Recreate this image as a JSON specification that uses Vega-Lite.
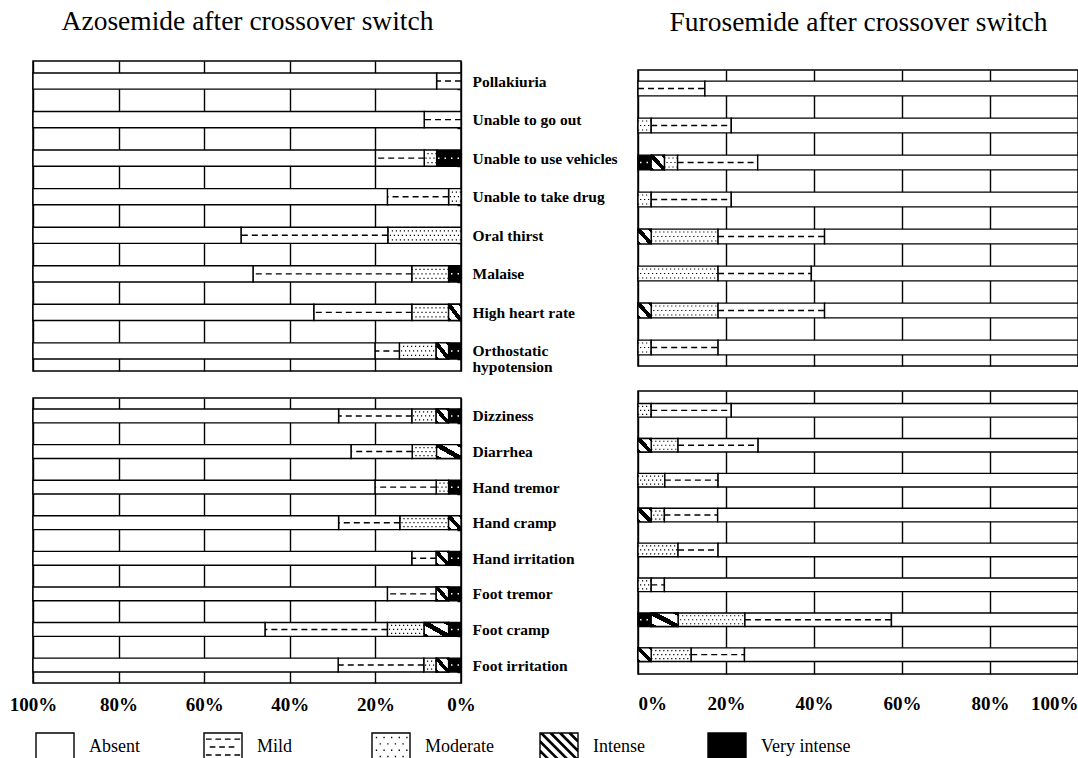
{
  "$schema": "https://vega.github.io/schema/vega-lite/v6.json",
  "background": "white",
  "padding": {"left": 8, "top": 6, "right": 0, "bottom": 0},
  "datasets": {
    "severity": [
      {"severity": "Very intense", "rank": 1},
      {"severity": "Intense", "rank": 2},
      {"severity": "Moderate", "rank": 3},
      {"severity": "Mild", "rank": 4},
      {"severity": "Absent", "rank": 5}
    ],
    "azoUpper": [
      {"symptom": "Pollakiuria", "severity": "Mild", "pct": 5.7},
      {"symptom": "Pollakiuria", "severity": "Absent", "pct": 94.3},
      {"symptom": "Unable to go out", "severity": "Mild", "pct": 8.6},
      {"symptom": "Unable to go out", "severity": "Absent", "pct": 91.4},
      {"symptom": "Unable to use vehicles", "severity": "Very intense", "pct": 5.7},
      {"symptom": "Unable to use vehicles", "severity": "Moderate", "pct": 2.9},
      {"symptom": "Unable to use vehicles", "severity": "Mild", "pct": 11.4},
      {"symptom": "Unable to use vehicles", "severity": "Absent", "pct": 80.0},
      {"symptom": "Unable to take drug", "severity": "Moderate", "pct": 2.9},
      {"symptom": "Unable to take drug", "severity": "Mild", "pct": 14.3},
      {"symptom": "Unable to take drug", "severity": "Absent", "pct": 82.8},
      {"symptom": "Oral thirst", "severity": "Moderate", "pct": 17.1},
      {"symptom": "Oral thirst", "severity": "Mild", "pct": 34.3},
      {"symptom": "Oral thirst", "severity": "Absent", "pct": 48.6},
      {"symptom": "Malaise", "severity": "Very intense", "pct": 2.9},
      {"symptom": "Malaise", "severity": "Moderate", "pct": 8.6},
      {"symptom": "Malaise", "severity": "Mild", "pct": 37.1},
      {"symptom": "Malaise", "severity": "Absent", "pct": 51.4},
      {"symptom": "High heart rate", "severity": "Intense", "pct": 2.9},
      {"symptom": "High heart rate", "severity": "Moderate", "pct": 8.6},
      {"symptom": "High heart rate", "severity": "Mild", "pct": 22.9},
      {"symptom": "High heart rate", "severity": "Absent", "pct": 65.6},
      {"symptom": "Orthostatic hypotension", "severity": "Very intense", "pct": 2.9},
      {"symptom": "Orthostatic hypotension", "severity": "Intense", "pct": 2.9},
      {"symptom": "Orthostatic hypotension", "severity": "Moderate", "pct": 8.6},
      {"symptom": "Orthostatic hypotension", "severity": "Mild", "pct": 5.7},
      {"symptom": "Orthostatic hypotension", "severity": "Absent", "pct": 79.9}
    ],
    "azoLower": [
      {"symptom": "Dizziness", "severity": "Very intense", "pct": 2.9},
      {"symptom": "Dizziness", "severity": "Intense", "pct": 2.9},
      {"symptom": "Dizziness", "severity": "Moderate", "pct": 5.7},
      {"symptom": "Dizziness", "severity": "Mild", "pct": 17.1},
      {"symptom": "Dizziness", "severity": "Absent", "pct": 71.4},
      {"symptom": "Diarrhea", "severity": "Intense", "pct": 5.7},
      {"symptom": "Diarrhea", "severity": "Moderate", "pct": 5.7},
      {"symptom": "Diarrhea", "severity": "Mild", "pct": 14.3},
      {"symptom": "Diarrhea", "severity": "Absent", "pct": 74.3},
      {"symptom": "Hand tremor", "severity": "Very intense", "pct": 2.9},
      {"symptom": "Hand tremor", "severity": "Moderate", "pct": 2.9},
      {"symptom": "Hand tremor", "severity": "Mild", "pct": 14.3},
      {"symptom": "Hand tremor", "severity": "Absent", "pct": 79.9},
      {"symptom": "Hand cramp", "severity": "Intense", "pct": 2.9},
      {"symptom": "Hand cramp", "severity": "Moderate", "pct": 11.4},
      {"symptom": "Hand cramp", "severity": "Mild", "pct": 14.3},
      {"symptom": "Hand cramp", "severity": "Absent", "pct": 71.4},
      {"symptom": "Hand irritation", "severity": "Very intense", "pct": 2.9},
      {"symptom": "Hand irritation", "severity": "Intense", "pct": 2.9},
      {"symptom": "Hand irritation", "severity": "Mild", "pct": 5.7},
      {"symptom": "Hand irritation", "severity": "Absent", "pct": 88.5},
      {"symptom": "Foot tremor", "severity": "Very intense", "pct": 2.9},
      {"symptom": "Foot tremor", "severity": "Intense", "pct": 2.9},
      {"symptom": "Foot tremor", "severity": "Mild", "pct": 11.4},
      {"symptom": "Foot tremor", "severity": "Absent", "pct": 82.8},
      {"symptom": "Foot cramp", "severity": "Very intense", "pct": 2.9},
      {"symptom": "Foot cramp", "severity": "Intense", "pct": 5.7},
      {"symptom": "Foot cramp", "severity": "Moderate", "pct": 8.6},
      {"symptom": "Foot cramp", "severity": "Mild", "pct": 28.6},
      {"symptom": "Foot cramp", "severity": "Absent", "pct": 54.2},
      {"symptom": "Foot irritation", "severity": "Very intense", "pct": 2.9},
      {"symptom": "Foot irritation", "severity": "Intense", "pct": 2.9},
      {"symptom": "Foot irritation", "severity": "Moderate", "pct": 2.9},
      {"symptom": "Foot irritation", "severity": "Mild", "pct": 20.0},
      {"symptom": "Foot irritation", "severity": "Absent", "pct": 71.3}
    ],
    "furoUpper": [
      {"symptom": "Pollakiuria", "severity": "Mild", "pct": 15.2},
      {"symptom": "Pollakiuria", "severity": "Absent", "pct": 84.8},
      {"symptom": "Unable to go out", "severity": "Moderate", "pct": 3.0},
      {"symptom": "Unable to go out", "severity": "Mild", "pct": 18.2},
      {"symptom": "Unable to go out", "severity": "Absent", "pct": 78.8},
      {"symptom": "Unable to use vehicles", "severity": "Very intense", "pct": 3.0},
      {"symptom": "Unable to use vehicles", "severity": "Intense", "pct": 3.0},
      {"symptom": "Unable to use vehicles", "severity": "Moderate", "pct": 3.0},
      {"symptom": "Unable to use vehicles", "severity": "Mild", "pct": 18.2},
      {"symptom": "Unable to use vehicles", "severity": "Absent", "pct": 72.8},
      {"symptom": "Unable to take drug", "severity": "Moderate", "pct": 3.0},
      {"symptom": "Unable to take drug", "severity": "Mild", "pct": 18.2},
      {"symptom": "Unable to take drug", "severity": "Absent", "pct": 78.8},
      {"symptom": "Oral thirst", "severity": "Intense", "pct": 3.0},
      {"symptom": "Oral thirst", "severity": "Moderate", "pct": 15.2},
      {"symptom": "Oral thirst", "severity": "Mild", "pct": 24.2},
      {"symptom": "Oral thirst", "severity": "Absent", "pct": 57.6},
      {"symptom": "Malaise", "severity": "Moderate", "pct": 18.2},
      {"symptom": "Malaise", "severity": "Mild", "pct": 21.2},
      {"symptom": "Malaise", "severity": "Absent", "pct": 60.6},
      {"symptom": "High heart rate", "severity": "Intense", "pct": 3.0},
      {"symptom": "High heart rate", "severity": "Moderate", "pct": 15.2},
      {"symptom": "High heart rate", "severity": "Mild", "pct": 24.2},
      {"symptom": "High heart rate", "severity": "Absent", "pct": 57.6},
      {"symptom": "Orthostatic hypotension", "severity": "Moderate", "pct": 3.0},
      {"symptom": "Orthostatic hypotension", "severity": "Mild", "pct": 15.2},
      {"symptom": "Orthostatic hypotension", "severity": "Absent", "pct": 81.8}
    ],
    "furoLower": [
      {"symptom": "Dizziness", "severity": "Moderate", "pct": 3.0},
      {"symptom": "Dizziness", "severity": "Mild", "pct": 18.2},
      {"symptom": "Dizziness", "severity": "Absent", "pct": 78.8},
      {"symptom": "Diarrhea", "severity": "Intense", "pct": 3.0},
      {"symptom": "Diarrhea", "severity": "Moderate", "pct": 6.1},
      {"symptom": "Diarrhea", "severity": "Mild", "pct": 18.2},
      {"symptom": "Diarrhea", "severity": "Absent", "pct": 72.7},
      {"symptom": "Hand tremor", "severity": "Moderate", "pct": 6.1},
      {"symptom": "Hand tremor", "severity": "Mild", "pct": 12.1},
      {"symptom": "Hand tremor", "severity": "Absent", "pct": 81.8},
      {"symptom": "Hand cramp", "severity": "Intense", "pct": 3.0},
      {"symptom": "Hand cramp", "severity": "Moderate", "pct": 3.0},
      {"symptom": "Hand cramp", "severity": "Mild", "pct": 12.1},
      {"symptom": "Hand cramp", "severity": "Absent", "pct": 81.9},
      {"symptom": "Hand irritation", "severity": "Moderate", "pct": 9.1},
      {"symptom": "Hand irritation", "severity": "Mild", "pct": 9.1},
      {"symptom": "Hand irritation", "severity": "Absent", "pct": 81.8},
      {"symptom": "Foot tremor", "severity": "Moderate", "pct": 3.0},
      {"symptom": "Foot tremor", "severity": "Mild", "pct": 3.0},
      {"symptom": "Foot tremor", "severity": "Absent", "pct": 94.0},
      {"symptom": "Foot cramp", "severity": "Very intense", "pct": 3.0},
      {"symptom": "Foot cramp", "severity": "Intense", "pct": 6.1},
      {"symptom": "Foot cramp", "severity": "Moderate", "pct": 15.2},
      {"symptom": "Foot cramp", "severity": "Mild", "pct": 33.3},
      {"symptom": "Foot cramp", "severity": "Absent", "pct": 42.4},
      {"symptom": "Foot irritation", "severity": "Intense", "pct": 3.0},
      {"symptom": "Foot irritation", "severity": "Moderate", "pct": 9.1},
      {"symptom": "Foot irritation", "severity": "Mild", "pct": 12.1},
      {"symptom": "Foot irritation", "severity": "Absent", "pct": 75.8}
    ]
  },
  "spacing": 18,
  "hconcat": [
    {
      "spacing": 13,
      "vconcat": [
        {
          "width": 428,
          "height": 310,
          "data": {"name": "azoUpper"},
          "transform": [
            {"lookup": "severity", "from": {"data": {"name": "severity"}, "key": "severity", "fields": ["rank"]}},
            {"stack": "pct", "groupby": ["symptom"], "sort": [{"field": "rank", "order": "ascending"}], "as": ["v0", "v1"]}
          ],
          "encoding": {
            "y": {
              "field": "symptom", "type": "nominal",
              "sort": ["Pollakiuria", "Unable to go out", "Unable to use vehicles", "Unable to take drug", "Oral thirst", "Malaise", "High heart rate", "Orthostatic hypotension"],
              "scale": {"paddingInner": 0.58, "paddingOuter": 0.31},
              "axis": {"orient": "right", "ticks": true, "tickSize": -4, "tickWidth": 1.5, "tickBand": "extent", "labelAlign": "left", "labelPadding": 15, "labelFontSize": 15.5, "labelLimit": 0, "labelLineHeight": 16, "labelExpr": "datum.value === 'Orthostatic hypotension' ? ['Orthostatic', 'hypotension'] : datum.label"}
            }
          },
          "layer": [
            {
              "mark": {"type": "bar", "stroke": "black", "strokeWidth": 1.4},
              "encoding": {
                "x": {"field": "v0", "type": "quantitative", "scale": {"domain": [0, 100], "reverse": true, "nice": false},
                      "axis": {"orient": "top", "title": "Azosemide after crossover switch", "titlePadding": 26, "values": [0, 20, 40, 60, 80, 100], "grid": true, "labels": false, "ticks": false, "domain": false}},
                "x2": {"field": "v1"},
                "fill": {"condition": {"test": "datum.severity === 'Very intense'", "value": "black"}, "value": "white"}
              }
            },
            {
              "transform": [{"filter": "datum.severity === 'Intense'"}],
              "mark": {"type": "bar", "stroke": "black", "strokeWidth": 1.4,
                       "fill": {"gradient": "linear", "x1": 0, "y1": 1, "x2": 1, "y2": 0,
                                "stops": [{"offset": 0, "color": "black"}, {"offset": 0.12, "color": "black"}, {"offset": 0.12, "color": "white"}, {"offset": 0.4, "color": "white"}, {"offset": 0.4, "color": "black"}, {"offset": 0.6, "color": "black"}, {"offset": 0.6, "color": "white"}, {"offset": 0.88, "color": "white"}, {"offset": 0.88, "color": "black"}, {"offset": 1, "color": "black"}]}},
              "encoding": {"x": {"field": "v0", "type": "quantitative"}, "x2": {"field": "v1"}}
            },
            {
              "transform": [{"filter": "datum.severity === 'Mild'"}],
              "mark": {"type": "rule", "stroke": "black", "strokeWidth": 1.4, "strokeDash": [6, 4]},
              "encoding": {"x": {"field": "v0", "type": "quantitative"}, "x2": {"field": "v1"}}
            },
            {
              "transform": [{"filter": "datum.severity === 'Moderate'"}],
              "mark": {"type": "rule", "stroke": "black", "strokeWidth": 1.2, "strokeDash": [1.2, 2.8], "yOffset": -4.5},
              "encoding": {"x": {"field": "v0", "type": "quantitative"}, "x2": {"field": "v1"}}
            },
            {
              "transform": [{"filter": "datum.severity === 'Moderate'"}],
              "mark": {"type": "rule", "stroke": "black", "strokeWidth": 1.2, "strokeDash": [1.2, 2.8], "strokeDashOffset": 2, "yOffset": 0},
              "encoding": {"x": {"field": "v0", "type": "quantitative"}, "x2": {"field": "v1"}}
            },
            {
              "transform": [{"filter": "datum.severity === 'Moderate'"}],
              "mark": {"type": "rule", "stroke": "black", "strokeWidth": 1.2, "strokeDash": [1.2, 2.8], "yOffset": 4.5},
              "encoding": {"x": {"field": "v0", "type": "quantitative"}, "x2": {"field": "v1"}}
            },
            {
              "transform": [{"filter": "datum.severity === 'Very intense'"}],
              "mark": {"type": "rule", "stroke": "white", "strokeWidth": 1.5, "strokeDash": [1.5, 5], "strokeDashOffset": -2},
              "encoding": {"x": {"field": "v0", "type": "quantitative"}, "x2": {"field": "v1"}}
            },
            {
              "transform": [{"filter": "datum.pct < 0"}],
              "mark": {"type": "point", "filled": true, "opacity": 1, "stroke": "black", "strokeWidth": 1.4},
              "encoding": {
                "x": {"field": "v0", "type": "quantitative"},
                "fill": {"field": "severity", "type": "nominal",
                         "scale": {"domain": ["Absent", "Mild", "Moderate", "Intense", "Very intense"], "range": ["white", "white", "white", "white", "black"]},
                         "legend": {"title": null, "encode": {"symbols": {"update": {"stroke": {"value": "black"}, "strokeWidth": {"value": 1.4}, "opacity": {"value": 1}}}}}},
                "shape": {"field": "severity", "type": "nominal",
                          "scale": {"domain": ["Absent", "Mild", "Moderate", "Intense", "Very intense"],
                                    "range": [
                                      "M-1,-0.74H1V0.74H-1Z",
                                      "M-1,-0.74H1V0.74H-1Z M-0.9,-0.42H-0.6M-0.4,-0.42H-0.1M0.1,-0.42H0.4M0.6,-0.42H0.9M-0.7,0H-0.4M-0.2,0H0.1M0.3,0H0.6M-0.9,0.42H-0.6M-0.4,0.42H-0.1M0.1,0.42H0.4M0.6,0.42H0.9",
                                      "M-1,-0.74H1V0.74H-1Z M-0.8,-0.5h0.07M-0.4,-0.5h0.07M0,-0.5h0.07M0.4,-0.5h0.07M0.8,-0.5h0.07M-0.6,-0.17h0.07M-0.2,-0.17h0.07M0.2,-0.17h0.07M0.6,-0.17h0.07M-0.8,0.17h0.07M-0.4,0.17h0.07M0,0.17h0.07M0.4,0.17h0.07M0.8,0.17h0.07M-0.6,0.5h0.07M-0.2,0.5h0.07M0.2,0.5h0.07M0.6,0.5h0.07",
                                      "M-1,-0.74H1V0.74H-1Z M-1,0.25L-0.51,0.74M-1,0.15L-0.41,0.74M-1,-0.25L-0.01,0.74M-1,-0.35L0.09,0.74M-0.99,-0.74L0.49,0.74M-0.89,-0.74L0.59,0.74M-0.49,-0.74L0.99,0.74M-0.39,-0.74L1,0.65M0.01,-0.74L1,0.25M0.11,-0.74L1,0.15M0.51,-0.74L1,-0.25M0.61,-0.74L1,-0.35",
                                      "M-1,-0.74H1V0.74H-1Z"
                                    ]},
                          "legend": {"title": null, "encode": {"symbols": {"update": {"stroke": {"value": "black"}, "strokeWidth": {"value": 1.4}, "opacity": {"value": 1}}}}}}
              }
            }
          ]
        },
        {
          "width": 428,
          "height": 285,
          "data": {"name": "azoLower"},
          "transform": [
            {"lookup": "severity", "from": {"data": {"name": "severity"}, "key": "severity", "fields": ["rank"]}},
            {"stack": "pct", "groupby": ["symptom"], "sort": [{"field": "rank", "order": "ascending"}], "as": ["v0", "v1"]}
          ],
          "encoding": {
            "y": {
              "field": "symptom", "type": "nominal",
              "sort": ["Dizziness", "Diarrhea", "Hand tremor", "Hand cramp", "Hand irritation", "Foot tremor", "Foot cramp", "Foot irritation"],
              "scale": {"paddingInner": 0.61, "paddingOuter": 0.31},
              "axis": {"orient": "right", "ticks": true, "tickSize": -4, "tickWidth": 1.5, "tickBand": "extent", "labelAlign": "left", "labelPadding": 15, "labelFontSize": 15.5, "labelLimit": 0}
            }
          },
          "layer": [
            {
              "mark": {"type": "bar", "stroke": "black", "strokeWidth": 1.4},
              "encoding": {
                "x": {"field": "v0", "type": "quantitative", "scale": {"domain": [0, 100], "reverse": true, "nice": false},
                      "axis": {"values": [0, 20, 40, 60, 80, 100], "grid": true, "ticks": false, "tickSize": 0, "domain": false, "labelExpr": "datum.value + '%'", "labelFontSize": 19, "labelPadding": 12, "labelFlush": false}},
                "x2": {"field": "v1"},
                "fill": {"condition": {"test": "datum.severity === 'Very intense'", "value": "black"}, "value": "white"}
              }
            },
            {
              "transform": [{"filter": "datum.severity === 'Intense'"}],
              "mark": {"type": "bar", "stroke": "black", "strokeWidth": 1.4,
                       "fill": {"gradient": "linear", "x1": 0, "y1": 1, "x2": 1, "y2": 0,
                                "stops": [{"offset": 0, "color": "black"}, {"offset": 0.12, "color": "black"}, {"offset": 0.12, "color": "white"}, {"offset": 0.4, "color": "white"}, {"offset": 0.4, "color": "black"}, {"offset": 0.6, "color": "black"}, {"offset": 0.6, "color": "white"}, {"offset": 0.88, "color": "white"}, {"offset": 0.88, "color": "black"}, {"offset": 1, "color": "black"}]}},
              "encoding": {"x": {"field": "v0", "type": "quantitative"}, "x2": {"field": "v1"}}
            },
            {
              "transform": [{"filter": "datum.severity === 'Mild'"}],
              "mark": {"type": "rule", "stroke": "black", "strokeWidth": 1.4, "strokeDash": [6, 4]},
              "encoding": {"x": {"field": "v0", "type": "quantitative"}, "x2": {"field": "v1"}}
            },
            {
              "transform": [{"filter": "datum.severity === 'Moderate'"}],
              "mark": {"type": "rule", "stroke": "black", "strokeWidth": 1.2, "strokeDash": [1.2, 2.8], "yOffset": -4},
              "encoding": {"x": {"field": "v0", "type": "quantitative"}, "x2": {"field": "v1"}}
            },
            {
              "transform": [{"filter": "datum.severity === 'Moderate'"}],
              "mark": {"type": "rule", "stroke": "black", "strokeWidth": 1.2, "strokeDash": [1.2, 2.8], "strokeDashOffset": 2, "yOffset": 0},
              "encoding": {"x": {"field": "v0", "type": "quantitative"}, "x2": {"field": "v1"}}
            },
            {
              "transform": [{"filter": "datum.severity === 'Moderate'"}],
              "mark": {"type": "rule", "stroke": "black", "strokeWidth": 1.2, "strokeDash": [1.2, 2.8], "yOffset": 4},
              "encoding": {"x": {"field": "v0", "type": "quantitative"}, "x2": {"field": "v1"}}
            },
            {
              "transform": [{"filter": "datum.severity === 'Very intense'"}],
              "mark": {"type": "rule", "stroke": "white", "strokeWidth": 1.5, "strokeDash": [1.5, 5], "strokeDashOffset": -2},
              "encoding": {"x": {"field": "v0", "type": "quantitative"}, "x2": {"field": "v1"}}
            }
          ]
        }
      ]
    },
    {
      "spacing": 7,
      "vconcat": [
        {
          "width": 440,
          "height": 1,
          "data": {"values": []},
          "mark": "point",
          "encoding": {
            "x": {"field": "pos", "type": "quantitative", "scale": {"domain": [0, 100]},
                  "axis": {"orient": "top", "title": "Furosemide after crossover switch", "titlePadding": 25, "grid": false, "labels": false, "ticks": false, "domain": false}}
          },
          "view": {"stroke": null}
        },
        {
          "spacing": 23,
          "vconcat": [
            {
              "width": 440,
              "height": 296,
              "data": {"name": "furoUpper"},
              "transform": [
                {"lookup": "severity", "from": {"data": {"name": "severity"}, "key": "severity", "fields": ["rank"]}},
                {"stack": "pct", "groupby": ["symptom"], "sort": [{"field": "rank", "order": "ascending"}], "as": ["v0", "v1"]}
              ],
              "encoding": {
                "y": {
                  "field": "symptom", "type": "nominal",
                  "sort": ["Pollakiuria", "Unable to go out", "Unable to use vehicles", "Unable to take drug", "Oral thirst", "Malaise", "High heart rate", "Orthostatic hypotension"],
                  "scale": {"paddingInner": 0.6, "paddingOuter": 0.3},
                  "axis": null
                }
              },
              "layer": [
                {
                  "mark": {"type": "bar", "stroke": "black", "strokeWidth": 1.4},
                  "encoding": {
                    "x": {"field": "v0", "type": "quantitative", "scale": {"domain": [0, 100], "nice": false},
                          "axis": {"values": [0, 20, 40, 60, 80, 100], "grid": true, "labels": false, "ticks": false, "domain": false}},
                    "x2": {"field": "v1"},
                    "fill": {"condition": {"test": "datum.severity === 'Very intense'", "value": "black"}, "value": "white"}
                  }
                },
                {
                  "transform": [{"filter": "datum.severity === 'Intense'"}],
                  "mark": {"type": "bar", "stroke": "black", "strokeWidth": 1.4,
                           "fill": {"gradient": "linear", "x1": 0, "y1": 1, "x2": 1, "y2": 0,
                                    "stops": [{"offset": 0, "color": "black"}, {"offset": 0.12, "color": "black"}, {"offset": 0.12, "color": "white"}, {"offset": 0.4, "color": "white"}, {"offset": 0.4, "color": "black"}, {"offset": 0.6, "color": "black"}, {"offset": 0.6, "color": "white"}, {"offset": 0.88, "color": "white"}, {"offset": 0.88, "color": "black"}, {"offset": 1, "color": "black"}]}},
                  "encoding": {"x": {"field": "v0", "type": "quantitative"}, "x2": {"field": "v1"}}
                },
                {
                  "transform": [{"filter": "datum.severity === 'Mild'"}],
                  "mark": {"type": "rule", "stroke": "black", "strokeWidth": 1.4, "strokeDash": [6, 4]},
                  "encoding": {"x": {"field": "v0", "type": "quantitative"}, "x2": {"field": "v1"}}
                },
                {
                  "transform": [{"filter": "datum.severity === 'Moderate'"}],
                  "mark": {"type": "rule", "stroke": "black", "strokeWidth": 1.2, "strokeDash": [1.2, 2.8], "yOffset": -4.5},
                  "encoding": {"x": {"field": "v0", "type": "quantitative"}, "x2": {"field": "v1"}}
                },
                {
                  "transform": [{"filter": "datum.severity === 'Moderate'"}],
                  "mark": {"type": "rule", "stroke": "black", "strokeWidth": 1.2, "strokeDash": [1.2, 2.8], "strokeDashOffset": 2, "yOffset": 0},
                  "encoding": {"x": {"field": "v0", "type": "quantitative"}, "x2": {"field": "v1"}}
                },
                {
                  "transform": [{"filter": "datum.severity === 'Moderate'"}],
                  "mark": {"type": "rule", "stroke": "black", "strokeWidth": 1.2, "strokeDash": [1.2, 2.8], "yOffset": 4.5},
                  "encoding": {"x": {"field": "v0", "type": "quantitative"}, "x2": {"field": "v1"}}
                },
                {
                  "transform": [{"filter": "datum.severity === 'Very intense'"}],
                  "mark": {"type": "rule", "stroke": "white", "strokeWidth": 1.5, "strokeDash": [1.5, 5], "strokeDashOffset": -2},
                  "encoding": {"x": {"field": "v0", "type": "quantitative"}, "x2": {"field": "v1"}}
                }
              ]
            },
            {
              "width": 440,
              "height": 283,
              "data": {"name": "furoLower"},
              "transform": [
                {"lookup": "severity", "from": {"data": {"name": "severity"}, "key": "severity", "fields": ["rank"]}},
                {"stack": "pct", "groupby": ["symptom"], "sort": [{"field": "rank", "order": "ascending"}], "as": ["v0", "v1"]}
              ],
              "encoding": {
                "y": {
                  "field": "symptom", "type": "nominal",
                  "sort": ["Dizziness", "Diarrhea", "Hand tremor", "Hand cramp", "Hand irritation", "Foot tremor", "Foot cramp", "Foot irritation"],
                  "scale": {"paddingInner": 0.61, "paddingOuter": 0.36},
                  "axis": null
                }
              },
              "layer": [
                {
                  "mark": {"type": "bar", "stroke": "black", "strokeWidth": 1.4},
                  "encoding": {
                    "x": {"field": "v0", "type": "quantitative", "scale": {"domain": [0, 100], "nice": false},
                          "axis": {"values": [0, 20, 40, 60, 80, 100], "grid": true, "ticks": false, "tickSize": 0, "domain": false, "labelExpr": "datum.value + '%'", "labelFontSize": 19, "labelPadding": 20, "labelFlush": true}},
                    "x2": {"field": "v1"},
                    "fill": {"condition": {"test": "datum.severity === 'Very intense'", "value": "black"}, "value": "white"}
                  }
                },
                {
                  "transform": [{"filter": "datum.severity === 'Intense'"}],
                  "mark": {"type": "bar", "stroke": "black", "strokeWidth": 1.4,
                           "fill": {"gradient": "linear", "x1": 0, "y1": 1, "x2": 1, "y2": 0,
                                    "stops": [{"offset": 0, "color": "black"}, {"offset": 0.12, "color": "black"}, {"offset": 0.12, "color": "white"}, {"offset": 0.4, "color": "white"}, {"offset": 0.4, "color": "black"}, {"offset": 0.6, "color": "black"}, {"offset": 0.6, "color": "white"}, {"offset": 0.88, "color": "white"}, {"offset": 0.88, "color": "black"}, {"offset": 1, "color": "black"}]}},
                  "encoding": {"x": {"field": "v0", "type": "quantitative"}, "x2": {"field": "v1"}}
                },
                {
                  "transform": [{"filter": "datum.severity === 'Mild'"}],
                  "mark": {"type": "rule", "stroke": "black", "strokeWidth": 1.4, "strokeDash": [6, 4]},
                  "encoding": {"x": {"field": "v0", "type": "quantitative"}, "x2": {"field": "v1"}}
                },
                {
                  "transform": [{"filter": "datum.severity === 'Moderate'"}],
                  "mark": {"type": "rule", "stroke": "black", "strokeWidth": 1.2, "strokeDash": [1.2, 2.8], "yOffset": -4},
                  "encoding": {"x": {"field": "v0", "type": "quantitative"}, "x2": {"field": "v1"}}
                },
                {
                  "transform": [{"filter": "datum.severity === 'Moderate'"}],
                  "mark": {"type": "rule", "stroke": "black", "strokeWidth": 1.2, "strokeDash": [1.2, 2.8], "strokeDashOffset": 2, "yOffset": 0},
                  "encoding": {"x": {"field": "v0", "type": "quantitative"}, "x2": {"field": "v1"}}
                },
                {
                  "transform": [{"filter": "datum.severity === 'Moderate'"}],
                  "mark": {"type": "rule", "stroke": "black", "strokeWidth": 1.2, "strokeDash": [1.2, 2.8], "yOffset": 4},
                  "encoding": {"x": {"field": "v0", "type": "quantitative"}, "x2": {"field": "v1"}}
                },
                {
                  "transform": [{"filter": "datum.severity === 'Very intense'"}],
                  "mark": {"type": "rule", "stroke": "white", "strokeWidth": 1.5, "strokeDash": [1.5, 5], "strokeDashOffset": -2},
                  "encoding": {"x": {"field": "v0", "type": "quantitative"}, "x2": {"field": "v1"}}
                }
              ]
            }
          ]
        }
      ]
    }
  ],
  "config": {
    "font": "Liberation Serif",
    "view": {"stroke": "black", "strokeWidth": 1.5},
    "axis": {"labelFont": "Liberation Serif", "labelColor": "black", "labelFontWeight": "bold", "gridColor": "black", "gridOpacity": 1, "gridWidth": 1.4, "tickColor": "black", "domain": false, "title": null,
             "titleFont": "Liberation Serif", "titleFontSize": 27.5, "titleFontWeight": "normal", "titleColor": "black"},
    "legend": {
      "orient": "bottom", "direction": "horizontal", "columns": 5, "gridAlign": "all",
      "symbolSize": 1444, "symbolStrokeColor": "black", "symbolStrokeWidth": 1.4, "symbolOpacity": 1,
      "labelFont": "Liberation Serif", "labelFontSize": 18, "labelColor": "black", "labelOffset": 14,
      "columnPadding": 22, "padding": 2, "offset": 10
    }
  }
}
